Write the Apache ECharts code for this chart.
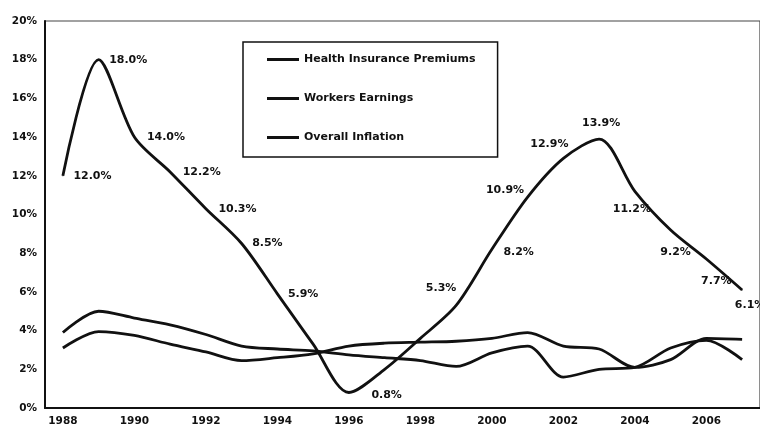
<!DOCTYPE html>
<html>
<head>
<meta charset="utf-8">
<script src="https://cdn.jsdelivr.net/npm/echarts@6/dist/echarts.min.js"></script>
<style>
html,body{margin:0;padding:0;background:#fff;}
#chart{width:760px;height:431px;}
</style>
</head>
<body>
<div id="chart"></div>
<script>
const years = ['1988','1989','1990','1991','1992','1993','1994','1995','1996','1997','1998','1999','2000','2001','2002','2003','2004','2005','2006','2007'];
const premiums = [12.0,18.0,14.0,12.2,10.3,8.5,5.9,3.3,0.8,2.0,3.6,5.3,8.2,10.9,12.9,13.9,11.2,9.2,7.7,6.1];
const earnings = [3.1,3.95,3.75,3.3,2.9,2.45,2.6,2.8,3.2,3.35,3.4,3.45,3.6,3.9,3.2,3.05,2.1,2.5,3.6,3.55];
const inflation = [3.9,5.0,4.65,4.3,3.8,3.2,3.05,2.95,2.75,2.6,2.45,2.15,2.85,3.2,1.6,2.0,2.1,3.1,3.5,2.5];
const labeledPoints = [true,true,true,true,true,true,true,false,true,false,false,true,true,true,true,true,true,true,true,true];
const yTicks = {min:0, max:20, interval:2};

// label placement (style only)
const placement = [
  {position:'right', distance:10},
  {position:'right', distance:10},
  {position:'right', distance:12},
  {position:'right', distance:12},
  {position:'right', distance:12},
  {position:'right', distance:10},
  {position:'right', distance:10},
  null,
  {position:'right', distance:22, offset:[0,3]},
  null, null,
  {position:'top', distance:8, offset:[-15,-3]},
  {position:'right', distance:11, offset:[0,3]},
  {position:'left', distance:3, offset:[0,-7]},
  {position:'top', distance:8, offset:[-14,0]},
  {position:'top', distance:10, offset:[2,0]},
  {position:'bottom', distance:12, offset:[-3,0]},
  {position:'bottom', distance:16, offset:[5,0]},
  {position:'bottom', distance:16, offset:[10,0]},
  {position:'bottom', distance:9, offset:[8,0]}
];

const font = 'DejaVu Sans';
const premiumData = premiums.map((v,i) => {
  const p = placement[i];
  if (!labeledPoints[i] || !p) return {value:v, label:{show:false}};
  return {value:v, label:Object.assign({show:true}, p)};
});

const lineIcon = 'path://M0,0 L32,0 L32,3 L0,3 Z';

const chart = echarts.init(document.getElementById('chart'), null, {renderer:'canvas'});
chart.setOption({
  animation:false,
  backgroundColor:'#fff',
  grid:{left:45, top:21, width:722, bottom:23, show:true, borderColor:'#444', borderWidth:1.2, containLabel:false},
  legend:{
    orient:'vertical', left:243, top:42,
    padding:[10,22,12,24], itemGap:24, itemWidth:32, itemHeight:3,
    icon:lineIcon,
    borderColor:'#111', borderWidth:1.5, backgroundColor:'#fff',
    itemStyle:{color:'#111'},
    textStyle:{fontFamily:font, fontSize:11, fontWeight:'bold', color:'#111', lineHeight:15},
    data:['Health Insurance Premiums','Workers Earnings','Overall Inflation']
  },
  xAxis:{
    type:'category', data:years, boundaryGap:true,
    axisLine:{lineStyle:{color:'#111', width:2}},
    axisTick:{show:false},
    axisLabel:{interval:1, margin:8, color:'#111', fontFamily:font, fontSize:10.5, fontWeight:'bold'}
  },
  yAxis:{
    type:'value', min:yTicks.min, max:yTicks.max, interval:yTicks.interval,
    axisLine:{show:true, lineStyle:{color:'#111', width:2}},
    axisTick:{show:false},
    splitLine:{show:false},
    axisLabel:{formatter:'{value}%', margin:8, color:'#111', fontFamily:font, fontSize:10.5, fontWeight:'bold'}
  },
  series:[
    {name:'Health Insurance Premiums', type:'line', data:premiumData, smooth:0.3,
     symbol:'circle', symbolSize:1, showSymbol:true,
     lineStyle:{color:'#111', width:2.8}, itemStyle:{color:'#111'},
     label:{show:true, formatter:p => p.value.toFixed(1)+'%', fontFamily:font, fontSize:11, fontWeight:'bold', color:'#111'}},
    {name:'Workers Earnings', type:'line', data:earnings, smooth:0.3, symbol:'none',
     lineStyle:{color:'#111', width:2.8}, itemStyle:{color:'#111'}},
    {name:'Overall Inflation', type:'line', data:inflation, smooth:0.3, symbol:'none',
     lineStyle:{color:'#111', width:2.8}, itemStyle:{color:'#111'}}
  ]
});
</script>
</body>
</html>
